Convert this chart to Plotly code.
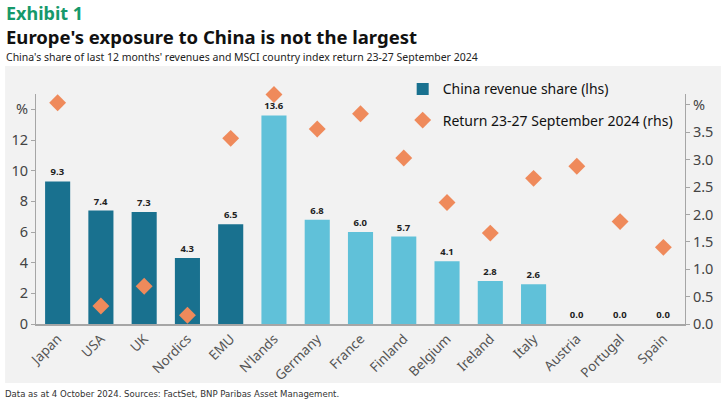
import plotly.graph_objects as go

# ======================================
# 1. Datos
# ======================================

countries = ["Japan", "USA", "UK", "Nordics", "EMU", "N'lands", "Germany",
             "France", "Finland", "Belgium", "Ireland", "Italy", "Austria",
             "Portugal", "Spain"]

china_share = [9.3, 7.4, 7.3, 4.3, 6.5, 13.6, 6.8, 6.0, 5.7, 4.1, 2.8, 2.6,
               0.0, 0.0, 0.0]

return_week = [4.04, 0.33, 0.69, 0.16, 3.39, 4.19, 3.56, 3.84, 3.03, 2.22,
               1.66, 2.66, 2.88, 1.87, 1.40]

left_ticks = [0, 2, 4, 6, 8, 10, 12, 14]
left_labels = ["0", "2", "4", "6", "8", "10", "12", "%"]
right_ticks = [0, 0.5, 1.0, 1.5, 2.0, 2.5, 3.0, 3.5, 4.0]
right_labels = ["0.0", "0.5", "1.0", "1.5", "2.0", "2.5", "3.0", "3.5", "%"]

# regiones en azul oscuro, países europeos en azul claro
dark = "#19718f"
light = "#60c1d9"
bar_colors = [dark] * 5 + [light] * 10

font = "Noto Sans, Open Sans, sans-serif"

# ======================================
# 2. Figura
# ======================================

fig = go.Figure()

fig.add_trace(go.Bar(
    x=countries, y=china_share,
    name="China revenue share (lhs)",
    legendgroup="a",
    marker=dict(color=bar_colors, line_width=0),
    text=[f"<b>{v:.1f}</b>" for v in china_share],
    textposition="outside",
    textfont=dict(size=9.5, color="#222", family=font),
    cliponaxis=False,
    yaxis="y",
))

fig.add_trace(go.Scatter(
    x=countries, y=return_week,
    name="Return 23-27 September 2024 (rhs)",
    legendgroup="b",
    mode="markers",
    marker=dict(symbol="diamond", size=13, color="#ef8a5b"),
    cliponaxis=False,
    yaxis="y2",
))

axis_line = "#a6a6a6"

fig.update_layout(
    width=725, height=403,
    margin=dict(l=34, r=40, t=94, b=79),
    paper_bgcolor="white",
    plot_bgcolor="rgba(0,0,0,0)",
    font=dict(family=font, color="#333"),
    bargap=0.42,
    showlegend=True,
    legend=dict(
        x=0.565, y=1.09, xanchor="left", yanchor="top",
        bgcolor="rgba(0,0,0,0)",
        font=dict(size=14, color="#111", family=font),
        itemwidth=30, traceorder="grouped", tracegroupgap=10,
    ),
    xaxis=dict(
        tickangle=-45, tickfont=dict(size=13.5, color="#555", family=font),
        showline=True, linecolor=axis_line, linewidth=1.5,
        showgrid=False, ticks="", range=[-0.5, 14.5],
    ),
    yaxis=dict(
        range=[0, 15], tickvals=left_ticks, ticktext=left_labels,
        tickfont=dict(size=14.5, color="#444", family=font),
        showline=True, linecolor=axis_line, linewidth=1,
        ticks="outside", ticklen=4, tickcolor=axis_line,
        showgrid=False, zeroline=False,
    ),
    yaxis2=dict(
        range=[0, 4.2], tickvals=right_ticks, ticktext=right_labels,
        overlaying="y", side="right",
        tickfont=dict(size=14.5, color="#444", family=font),
        showline=True, linecolor=axis_line, linewidth=1,
        ticks="outside", ticklen=4, tickcolor=axis_line,
        showgrid=False, zeroline=False,
    ),
)

# fondo gris del bloque del gráfico
fig.add_shape(type="rect", xref="paper", yref="paper", layer="below",
              x0=-31 / 651, x1=687 / 651, y0=-59 / 230, y1=1 + 28 / 230,
              fillcolor="#f2f2f2", line_width=0)

# ======================================
# 3. Títulos y fuente
# ======================================

fig.add_annotation(text="<b>Exhibit 1</b>", xref="paper", yref="paper",
                   x=-32 / 651, y=1 + 95 / 230, xanchor="left", yanchor="top",
                   showarrow=False, font=dict(size=18, color="#16996b", family=font))
fig.add_annotation(text="<b>Europe's exposure to China is not the largest</b>",
                   xref="paper", yref="paper",
                   x=-32 / 651, y=1 + 72 / 230, xanchor="left", yanchor="top",
                   showarrow=False, font=dict(size=18.5, color="#111", family=font))
fig.add_annotation(text="China's share of last 12 months' revenues and MSCI country index return 23-27 September 2024",
                   xref="paper", yref="paper",
                   x=-32 / 651, y=1 + 46 / 230, xanchor="left", yanchor="top",
                   showarrow=False, font=dict(size=10.5, color="#222", family=font))
fig.add_annotation(text="Data as at 4 October 2024. Sources: FactSet, BNP Paribas Asset Management.",
                   xref="paper", yref="paper",
                   x=-33 / 651, y=-62 / 230, xanchor="left", yanchor="top",
                   showarrow=False,
                   font=dict(size=9.5, color="#333",
                             family="Liberation Sans Narrow, DejaVu Sans Condensed, sans-serif"))

# sin margen del body para que la figura llene la ventana
fig.write_html("out.html", config={"displayModeBar": False},
               post_script="document.body.style.margin='0';")
